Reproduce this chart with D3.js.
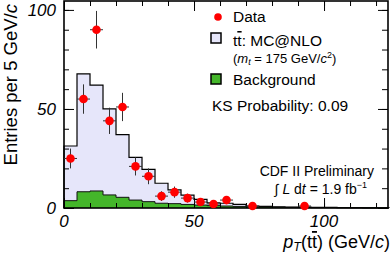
<!DOCTYPE html>
<html>
<head>
<meta charset="utf-8">
<script src="https://cdn.jsdelivr.net/npm/d3@7"></script>
<style>
  body { margin: 0; background: #fff; }
  svg { display: block; font-family: "Liberation Sans", Arial, sans-serif; }
</style>
</head>
<body>
<svg id="svg" width="391" height="257"></svg>
<script>
// bins are 5 GeV wide, starting at 0
var binWidth = 5;
var ttbar = [31.3, 67.7, 62, 50, 37, 25.6, 19.5, 12.5, 9.2, 6.5, 4.4, 2.6, 2.4, 1.8, 1.0, 0.8, 0.6, 0.5, 0.4, 0.3, 0.3, 0.2, 0.2, 0.1, 0.1];
var background = [3.7, 8.2, 8.6, 6.6, 5.4, 4.0, 3.2, 2.4, 2.2, 1.8, 1.5, 1.2, 1.0, 0.8, 0.6, 0.5, 0.4, 0.3, 0.3, 0.2, 0.2, 0.2, 0.1, 0.1, 0.1];
var dataCounts = [25, 55, 90, 44, 51, 21, 16, 6, 8, 5, 3, 2, 4, 0, 1, 0, 0, 0, 1];
var xTicks = [0, 50, 100];
var yTicks = [0, 50, 100];

var svg = d3.select('#svg');
var pl = 64, pr = 388, pt = 1, pb = 208;

var x = d3.scaleLinear().domain([0, 124.6]).range([pl, pr]);
var y = d3.scaleLinear().domain([0, 104.5]).range([pb, pt]);

function stepPath(vals) {
    var pts = [[x(0), y(0)]];
    vals.forEach(function(v, i) {
        pts.push([x(i * binWidth), y(v)]);
        pts.push([x((i + 1) * binWidth), y(v)]);
    });
    pts.push([x(vals.length * binWidth), y(0)]);
    return d3.line()(pts);
}

svg.append('path')
    .attr('d', stepPath(ttbar))
    .attr('fill', '#e6e6fa')
    .attr('stroke', '#000')
    .attr('stroke-width', 1.2);

svg.append('path')
    .attr('d', stepPath(background))
    .attr('fill', '#44b62a')
    .attr('stroke', '#111')
    .attr('stroke-width', 1);

// axes with inward ticks, on all four sides
function addAxis(axis, tr) {
    var g = svg.append('g').attr('transform', tr).call(axis);
    g.select('.domain').remove();
    g.selectAll('line').attr('stroke', '#000').attr('stroke-width', 1);
    return g;
}
var minorX = d3.range(0, 125, 10);
var minorY = d3.range(0, 105, 10);

addAxis(d3.axisBottom(x).tickValues(minorX).tickSize(-5).tickFormat(''), 'translate(0,' + pb + ')');
addAxis(d3.axisBottom(x).tickValues(xTicks).tickSize(-10).tickFormat(''), 'translate(0,' + pb + ')');
addAxis(d3.axisTop(x).tickValues(minorX).tickSize(-5).tickFormat(''), 'translate(0,' + pt + ')');
addAxis(d3.axisTop(x).tickValues(xTicks).tickSize(-10).tickFormat(''), 'translate(0,' + pt + ')');
addAxis(d3.axisLeft(y).tickValues(minorY).tickSize(-5).tickFormat(''), 'translate(' + pl + ',0)');
addAxis(d3.axisLeft(y).tickValues(yTicks).tickSize(-10).tickFormat(''), 'translate(' + pl + ',0)');
addAxis(d3.axisRight(y).tickValues(minorY).tickSize(-6).tickFormat(''), 'translate(' + pr + ',0)');
addAxis(d3.axisRight(y).tickValues(yTicks).tickSize(-10).tickFormat(''), 'translate(' + pr + ',0)');

svg.append('rect')
    .attr('x', pl).attr('y', pt)
    .attr('width', pr - pl).attr('height', pb - pt)
    .attr('fill', 'none').attr('stroke', '#000').attr('stroke-width', 1.6);

// tick labels
svg.selectAll('.xlab').data(xTicks).enter().append('text')
    .attr('x', function(d) { return x(d); })
    .attr('y', 227)
    .attr('text-anchor', 'middle')
    .attr('font-size', 17).attr('font-style', 'italic')
    .text(function(d) { return d; });
svg.selectAll('.ylab').data(yTicks).enter().append('text')
    .attr('x', 56)
    .attr('y', function(d) { return y(d) + 6; })
    .attr('text-anchor', 'end')
    .attr('font-size', 17).attr('font-style', 'italic')
    .text(function(d) { return d; });

// data points
var pts = dataCounts.map(function(c, i) { return { x: (i + 0.5) * binWidth, n: c }; })
    .filter(function(d) { return d.n > 0; });
var pg = svg.append('g');
pg.selectAll('.ex').data(pts).enter().append('line')
    .attr('x1', function(d) { return x(d.x - binWidth / 2); })
    .attr('x2', function(d) { return x(d.x + binWidth / 2); })
    .attr('y1', function(d) { return y(d.n); })
    .attr('y2', function(d) { return y(d.n); })
    .attr('stroke', '#333').attr('stroke-width', 1);
pg.selectAll('.ey').data(pts).enter().append('line')
    .attr('x1', function(d) { return x(d.x); })
    .attr('x2', function(d) { return x(d.x); })
    .attr('y1', function(d) { return y(d.n + Math.sqrt(d.n)); })
    .attr('y2', function(d) { return y(Math.max(0, d.n - Math.sqrt(d.n))); })
    .attr('stroke', '#333').attr('stroke-width', 1);
pg.selectAll('circle').data(pts).enter().append('circle')
    .attr('cx', function(d) { return x(d.x); })
    .attr('cy', function(d) { return y(d.n); })
    .attr('r', 4.3)
    .attr('fill', '#ff0000');

// legend
var fs = 15.5;
var lg = svg.append('g');
lg.append('circle').attr('cx', 218).attr('cy', 17).attr('r', 3.8).attr('fill', '#ff0000');
lg.append('text').attr('x', 233).attr('y', 22).attr('font-size', fs).text('Data');
lg.append('rect').attr('x', 211).attr('y', 33).attr('width', 10).attr('height', 10)
    .attr('fill', '#e6e6fa').attr('stroke', '#000').attr('stroke-width', 1.5);
var tl = lg.append('text').attr('x', 233).attr('y', 46).attr('font-size', fs);
tl.append('tspan').text('t');
tl.append('tspan').style('text-decoration', 'overline').text('t');
tl.append('tspan').text(': MC@NLO');
var mt = lg.append('text').attr('x', 233).attr('y', 63).attr('font-size', 13);
mt.append('tspan').text('(');
mt.append('tspan').attr('font-style', 'italic').text('m');
mt.append('tspan').attr('font-style', 'italic').attr('font-size', 9).attr('dy', 2).text('t');
mt.append('tspan').attr('dy', -2).text(' = 175 GeV/');
mt.append('tspan').attr('font-style', 'italic').text('c');
mt.append('tspan').attr('font-size', 9).attr('dy', -5).text('2');
mt.append('tspan').attr('dy', 5).text(')');
lg.append('rect').attr('x', 211).attr('y', 74).attr('width', 10).attr('height', 10)
    .attr('fill', '#44b62a').attr('stroke', '#000').attr('stroke-width', 1.5);
lg.append('text').attr('x', 233).attr('y', 85).attr('font-size', fs).text('Background');
lg.append('text').attr('x', 212).attr('y', 111).attr('font-size', fs).text('KS Probability: 0.09');

svg.append('text').attr('x', 374).attr('y', 176).attr('text-anchor', 'end')
    .attr('font-size', 14).text('CDF II Preliminary');
var lum = svg.append('text').attr('x', 367).attr('y', 194).attr('text-anchor', 'end').attr('font-size', 14);
lum.append('tspan').text('\u222B ');
lum.append('tspan').attr('font-style', 'italic').text('L');
lum.append('tspan').text(' d');
lum.append('tspan').attr('font-style', 'italic').text('t');
lum.append('tspan').text(' = 1.9 fb');
lum.append('tspan').attr('font-size', 9).attr('dy', -6).text('\u22121');

// axis titles
var xt = svg.append('text').attr('x', 390).attr('y', 248).attr('text-anchor', 'end').attr('font-size', 18);
xt.append('tspan').attr('font-style', 'italic').text('p');
xt.append('tspan').attr('font-style', 'italic').attr('font-size', 12.5).attr('dy', 3).text('T');
xt.append('tspan').attr('dy', -3).text('(t');
xt.append('tspan').style('text-decoration', 'overline').text('t');
xt.append('tspan').text(') (GeV/');
xt.append('tspan').attr('font-style', 'italic').text('c');
xt.append('tspan').text(')');

var yt = svg.append('text')
    .attr('transform', 'translate(17,4) rotate(-90)')
    .attr('text-anchor', 'end').attr('font-size', 18.5);
yt.append('tspan').text('Entries per 5 GeV/');
yt.append('tspan').attr('font-style', 'italic').text('c');
</script>
</body>
</html>
